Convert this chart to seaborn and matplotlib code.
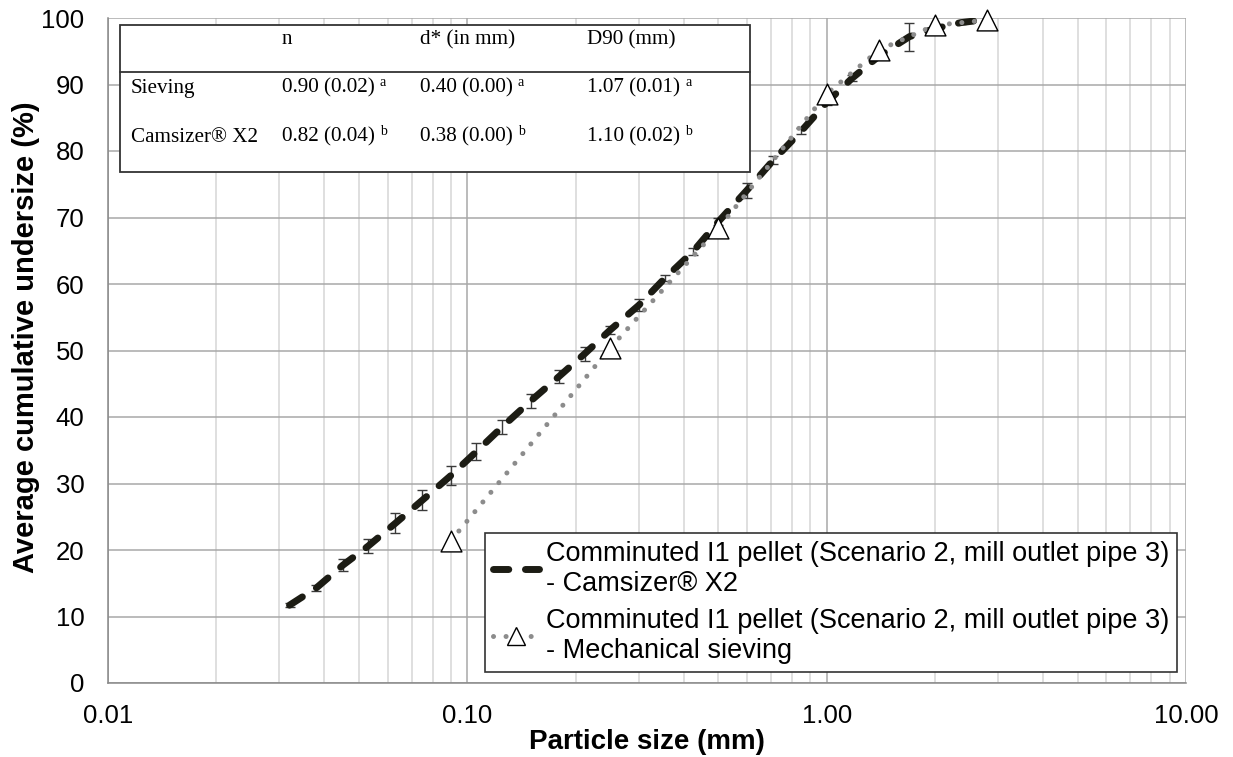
import numpy as np
import matplotlib
matplotlib.use('Agg')
import matplotlib.pyplot as plt
import seaborn as sns
from matplotlib.ticker import LogLocator, FuncFormatter, NullFormatter
from matplotlib.lines import Line2D
from matplotlib.patches import Rectangle

# Camsizer X2 curve (size classes in mm, cumulative undersize %, error)
cams_size = [0.032, 0.038, 0.045, 0.053, 0.063, 0.075, 0.090, 0.106, 0.125, 0.150,
             0.180, 0.212, 0.250, 0.300, 0.355, 0.425, 0.500, 0.600, 0.710, 0.850,
             1.00, 1.18, 1.40, 1.70, 2.00, 2.36, 2.80]
cams_pct = [11.7, 14.3, 17.7, 20.6, 24.0, 27.5, 31.2, 34.8, 38.5, 42.4,
            46.1, 49.5, 53.1, 56.8, 60.9, 64.9, 69.4, 74.1, 78.6, 83.0,
            87.3, 91.0, 94.3, 97.2, 98.4, 99.3, 99.8]
cams_err = [0.3, 0.4, 0.9, 1.0, 1.5, 1.5, 1.5, 1.3, 1.1, 1.1,
            1.0, 1.1, 0.6, 0.9, 0.5, 0.5, 0.5, 1.1, 0.6, 0.5,
            0.4, 0.5, 0.5, 2.1, 0.3, 0.2, 0.1]

# Mechanical sieving
sieve_size = [0.09, 0.25, 0.5, 1.0, 1.4, 2.0, 2.8]
sieve_pct = [21.4, 50.4, 68.4, 88.6, 95.2, 98.9, 99.7]

legend_labels = ['Comminuted I1 pellet (Scenario 2, mill outlet pipe 3)\n- Camsizer® X2',
                 'Comminuted I1 pellet (Scenario 2, mill outlet pipe 3)\n- Mechanical sieving']

# inset table
table_cols = ['n', 'd* (in mm)', 'D90 (mm)']
table_rows = ['Sieving', 'Camsizer® X2']
table_vals = [['0.90 (0.02)', '0.40 (0.00)', '1.07 (0.01)'],
              ['0.82 (0.04)', '0.38 (0.00)', '1.10 (0.02)']]
table_sup = ['a', 'b']

sns.set_style('white')
plt.rcParams['font.family'] = ['Liberation Sans', 'DejaVu Sans']
plt.rcParams.update({'text.color': 'black', 'axes.labelcolor': 'black',
                     'xtick.labelcolor': 'black', 'ytick.labelcolor': 'black'})

W, H = 1233, 757
fig = plt.figure(figsize=(W / 100, H / 100), dpi=100)
ax = fig.add_axes([108 / W, 1 - 683 / H, 1078 / W, 665 / H])

def fxy(px, py):
    return px / W, 1 - py / H

ax.set_xscale('log')
ax.set_xlim(0.01, 10)
ax.set_ylim(0, 100)
ax.xaxis.set_major_locator(LogLocator(base=10))
ax.xaxis.set_minor_locator(LogLocator(base=10, subs=np.arange(2, 10)))
ax.xaxis.set_major_formatter(FuncFormatter(lambda v, p: f'{v:.2f}'))
ax.xaxis.set_minor_formatter(NullFormatter())
ax.set_yticks(range(0, 101, 10))

ax.grid(which='major', color='#a8a8a8', lw=1.1)
ax.grid(which='minor', axis='x', color='#d6d6d6', lw=1.1)
ax.set_axisbelow(True)
for s in ['top', 'right']:
    ax.spines[s].set_visible(False)
for s in ['left', 'bottom']:
    ax.spines[s].set_color('#888888')
    ax.spines[s].set_linewidth(1.1)
ax.tick_params(which='major', length=4, color='#888888', labelcolor='black', labelsize=18.5)
ax.tick_params(axis='y', pad=13)
ax.tick_params(axis='x', pad=11)
ax.tick_params(which='minor', length=0)

ax.errorbar(cams_size, cams_pct, yerr=cams_err, fmt='none', ecolor='#3a3a3a',
            elinewidth=1, capsize=3.5, capthick=1, zorder=3)

dash_style = (0, (2.2, 2.4))
dot_style = (0, (0.01, 2.5))
sns.lineplot(x=cams_size, y=cams_pct, ax=ax, color='#1c1c14', lw=5,
             linestyle=dash_style, dash_capstyle='round', zorder=4, legend=False)
sns.lineplot(x=sieve_size, y=sieve_pct, ax=ax, color='#8c8c8c', lw=3.6,
             linestyle=dot_style, dash_capstyle='round', zorder=4, legend=False)
sns.scatterplot(x=sieve_size, y=sieve_pct, ax=ax, marker='^', s=225, clip_on=False,
                facecolor='white', edgecolor='black', linewidth=1, zorder=5, legend=False)

ax.set_xlabel('Particle size (mm)', fontsize=20, fontweight='bold', labelpad=1)
ax.set_ylabel('Average cumulative undersize (%)', fontsize=21, fontweight='bold')
ax.yaxis.set_label_coords(-0.063, 0.52)

handles = [Line2D([], [], color='#1c1c14', lw=5, linestyle=dash_style, dash_capstyle='round'),
           Line2D([], [], color='#8c8c8c', lw=3.6, linestyle=dot_style, dash_capstyle='round',
                  marker='^', ms=13, mfc='white', mec='black', mew=1)]
leg = ax.legend(handles, legend_labels, loc='lower right', bbox_to_anchor=(0.992, 0.017),
                fontsize=19.5, frameon=True, fancybox=False, framealpha=1, edgecolor='#333333',
                borderaxespad=0, handlelength=1.7, handletextpad=0.25, labelspacing=0.4,
                borderpad=0.3)
leg.get_frame().set_linewidth(1.2)
leg.set_zorder(6)

# inset table
x0, y0 = fxy(120, 172)
fig.add_artist(Rectangle((x0, y0), 630 / W, 147 / H, transform=fig.transFigure,
                         fc='white', ec='#333333', lw=1.3, zorder=10))
fig.add_artist(Line2D([120 / W, 750 / W], [1 - 72 / H] * 2, transform=fig.transFigure,
                      color='#333333', lw=1.3, zorder=11))
serif = ['Liberation Serif', 'DejaVu Serif']
col_px = [282, 420, 587]
tkw = dict(family=serif, fontsize=15.2, va='center', zorder=12)
for cx, c in zip(col_px, table_cols):
    fig.text(*fxy(cx, 40), c, **tkw)
value_texts = []
for ry, r, vals, sup in zip([88, 137], table_rows, table_vals, table_sup):
    fig.text(*fxy(131, ry), r, **tkw)
    for cx, v in zip(col_px, vals):
        value_texts.append((fig.text(*fxy(cx, ry), v, **tkw), sup))

fig.canvas.draw()
renderer = fig.canvas.get_renderer()
for t, sup in value_texts:
    bb = t.get_window_extent(renderer)
    fig.text((bb.x1 + 5) / W, (bb.y0 + bb.height * 0.45) / H, sup, family=serif,
             fontsize=10, va='bottom', ha='left', zorder=12)

fig.savefig('out.png', dpi=100)
